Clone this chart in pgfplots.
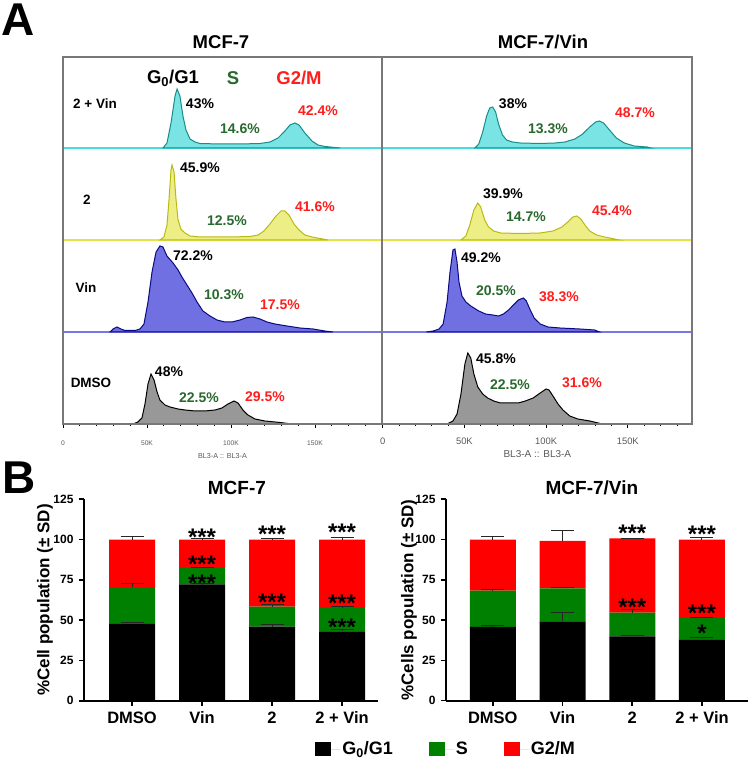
\documentclass[border=0pt]{standalone}
\usepackage{pgfplots}
\pgfplotsset{compat=1.18}
\usepackage{fontspec}
\setmainfont{Liberation Sans}
\newcommand{\fs}[1]{\fontsize{#1}{#1}\selectfont}
\definecolor{cyfill}{RGB}{122,228,228}
\definecolor{cyline}{RGB}{25,140,140}
\definecolor{cybase}{RGB}{70,222,222}
\definecolor{yefill}{RGB}{238,238,135}
\definecolor{yeline}{RGB}{185,185,20}
\definecolor{yebase}{RGB}{228,228,70}
\definecolor{blfill}{RGB}{112,112,226}
\definecolor{blline}{RGB}{10,10,130}
\definecolor{blbase}{RGB}{120,120,228}
\definecolor{grfill}{RGB}{152,152,152}
\definecolor{frgray}{RGB}{120,120,120}
\definecolor{labgray}{RGB}{90,90,90}
\definecolor{dgreen}{RGB}{40,105,45}
\definecolor{pred}{RGB}{255,30,30}
\definecolor{bgreen}{RGB}{0,128,0}
\definecolor{bred}{RGB}{255,0,0}
\pgfplotsset{
  histrow/.style={anchor=south west, scale only axis, width=#1, height=92pt,
    ymin=0, ymax=92, xmin=0, hide axis, clip=false},
  frame/.style={anchor=south west, scale only axis, height=367pt,
    xmin=0, ymin=0, ymax=1, ytick=\empty,
    xtick={0,50,100,150}, xticklabels={0,50K,100K,150K},
    minor xtick={10,20,30,40,60,70,80,90,110,120,130,140,160,170,180},
    xtick pos=bottom, tick align=outside, major tick length=4pt, minor tick length=2.5pt,
    axis line style={draw=frgray, line width=1.1pt}, tick style={black, line width=0.6pt},
    xlabel={BL3-A :: BL3-A}},
  barax/.style={anchor=south west, scale only axis, height=201.4pt,
    ymin=0, ymax=125, enlargelimits=false},
  errplot/.style={draw=none, mark=none, error bars/.cd, y dir=plus, y explicit,
    error bar style={draw=black!85, line width=1pt},
    error mark=-,
    error mark options={rotate=90, draw=black!85, line width=1pt, mark size=11.5pt}},
}
\tikzset{
  pct/.style={font=\fs{14}\bfseries, anchor=center, inner sep=0pt},
  rowlab/.style={font=\fs{13.5}\bfseries, anchor=center, inner sep=0pt},
  star/.style={font=\fs{24}\bfseries, anchor=center, inner sep=0pt, yshift=-5pt},
}
\begin{document}
\begin{tikzpicture}
\fill[white] (0pt,0pt) rectangle (750pt,760pt);
\path[use as bounding box] (0pt,0pt) rectangle (750pt,760pt);

% ---------------- Panel A : left (MCF-7) ----------------
\begin{axis}[histrow=319pt, at={(63pt,612pt)}, xmax=189.9]
\addplot[draw=cybase, line width=1.3pt] coordinates {(0,0) (189.9,0)};
\addplot[draw=cyline, fill=cyfill, line width=1pt] coordinates {(59.5,0) (61.9,5) (64.3,25) (66.7,52) (67.9,59) (69.6,52) (71.4,32) (73.2,18) (75.6,9) (78.6,6) (81.5,4.5) (93.5,4) (105.4,4) (117.3,4.5) (123.2,6) (128.0,10) (132.1,17) (135.1,23) (138.1,25) (140.5,23) (144.0,15) (148.2,7) (151.8,3) (155.9,1.5) (161.9,0.5) (164.9,0)} \closedcycle;
\end{axis}
\begin{axis}[histrow=319pt, at={(63pt,520pt)}, xmax=189.9]
\addplot[draw=yebase, line width=1.3pt] coordinates {(0,0) (189.9,0)};
\addplot[draw=yeline, fill=yefill, line width=1pt] coordinates {(57.7,0) (60.1,3) (61.9,15) (63.1,40) (64.3,70) (64.9,75) (66.1,68) (67.3,40) (68.5,20) (70.2,11) (72.6,7) (75.6,4) (81.5,3) (99.4,3) (111.3,3.5) (116.1,5) (119.6,9) (123.2,16) (126.8,24) (129.8,29) (132.1,29) (134.5,25) (137.5,16) (140.5,10) (144.0,5) (148.2,3) (153.0,1.5) (157.7,0)} \closedcycle;
\end{axis}
\begin{axis}[histrow=319pt, at={(63pt,428pt)}, xmax=189.9]
\addplot[draw=blbase, line width=1.3pt] coordinates {(0,0) (189.9,0)};
\addplot[draw=blline, fill=blfill, line width=1pt] coordinates {(28.0,0) (29.8,3) (32.1,5) (34.5,3) (36.9,1.5) (42.9,1.5) (45.8,3) (48.2,8) (50.6,30) (53.0,60) (55.4,80) (57.7,86) (59.5,85) (61.9,76) (65.5,69) (68.5,62) (70.8,55) (73.8,47) (76.8,39) (79.8,30) (83.3,21) (87.5,16) (91.7,12) (96.4,10) (100.6,10) (105.4,12) (109.5,14.5) (113.1,15) (117.3,13) (121.4,10) (126.2,8) (133.3,6) (141.1,4) (148.8,3) (155.9,1) (160.7,0)} \closedcycle;
\end{axis}
\begin{axis}[histrow=319pt, at={(63pt,336pt)}, xmax=189.9]
\addplot[draw=black, fill=grfill, line width=1pt] coordinates {(41.7,0) (44.6,2) (47.0,6) (48.8,20) (50.6,40) (52.4,50) (54.2,44) (56.0,32) (57.7,24) (60.7,19) (63.7,17) (68.5,15) (72.6,14) (78.6,13) (84.5,13) (90.5,14) (94.6,16) (98.2,20) (101.8,23) (104.2,21) (107.1,14) (110.1,9) (114.3,5) (120.2,3) (129.2,1.5) (136.3,0)} \closedcycle;
\end{axis}
\begin{axis}[frame, at={(63pt,336pt)}, width=319pt, xmax=189.9,
  xticklabel style={font=\fs{6.7}, text=labgray, anchor=center, yshift=-15pt},
  xlabel style={font=\fs{7.2}, text=labgray, at={(axis description cs:0.5,0)}, anchor=center, yshift=-32pt}]
\end{axis}

% ---------------- Panel A : right (MCF-7/Vin) ----------------
\begin{axis}[histrow=309.3pt, at={(382.7pt,612pt)}, xmax=189.3]
\addplot[draw=cybase, line width=1.3pt] coordinates {(0,0) (189.3,0)};
\addplot[draw=cyline, fill=cyfill, line width=1pt] coordinates {(56.4,0) (58.8,4) (61.2,16) (63.6,32) (65.5,40) (67.3,41) (69.1,36) (70.9,24) (73.3,13) (75.8,8) (79.4,6) (84.2,5) (96.4,4.5) (105.5,5) (111.5,6) (117.6,9) (122.4,14) (126.7,21) (130.3,26) (132.7,27) (135.2,25) (138.8,18) (143.0,10) (147.9,5) (153.9,2) (161.8,1) (164.2,0)} \closedcycle;
\end{axis}
\begin{axis}[histrow=309.3pt, at={(382.7pt,520pt)}, xmax=189.3]
\addplot[draw=yebase, line width=1.3pt] coordinates {(0,0) (189.3,0)};
\addplot[draw=yeline, fill=yefill, line width=1pt] coordinates {(47.9,0) (50.9,4) (53.3,15) (55.8,30) (58.2,37) (60.0,33) (62.4,20) (64.8,13) (67.9,9) (72.1,7) (84.2,6.5) (96.4,7) (104.2,9) (109.7,13) (113.3,18) (116.4,23) (118.8,24) (121.2,21) (124.2,14) (126.7,9) (130.9,5) (135.8,3) (141.8,1) (144.8,0)} \closedcycle;
\end{axis}
\begin{axis}[histrow=309.3pt, at={(382.7pt,428pt)}, xmax=189.3]
\addplot[draw=blbase, line width=1.3pt] coordinates {(0,0) (189.3,0)};
\addplot[draw=blline, fill=blfill, line width=1pt] coordinates {(26.7,0) (30.9,1) (34.5,3) (37.0,8) (39.4,30) (41.2,60) (43.0,82) (44.2,83) (45.5,70) (46.7,50) (48.5,36) (50.9,30) (53.9,26) (58.8,21) (63.0,18) (67.3,17) (70.9,16) (73.9,18) (77.0,22) (80.0,27) (83.0,32) (86.1,34) (87.9,31) (90.3,22) (92.7,14) (96.4,8) (101.2,5) (108.5,4) (120.6,3) (129.7,2) (132.7,0)} \closedcycle;
\end{axis}
\begin{axis}[histrow=309.3pt, at={(382.7pt,336pt)}, xmax=189.3]
\addplot[draw=black, fill=grfill, line width=1pt] coordinates {(39.4,0) (43.0,3) (45.5,10) (47.9,30) (50.3,60) (52.1,71) (53.9,66) (55.8,50) (58.2,37) (61.2,30) (64.2,26) (67.9,23) (72.1,21) (78.2,21) (83.0,21) (87.3,23) (92.1,26) (96.4,31) (100.0,35) (101.8,34) (104.2,28) (107.3,20) (110.3,14) (114.5,8) (119.4,5) (126.7,3) (134.5,0)} \closedcycle;
\end{axis}
\begin{axis}[frame, at={(382.7pt,336pt)}, width=309.3pt, xmax=189.3,
  xticklabel style={font=\fs{9.4}, text=labgray, anchor=center, yshift=-13pt},
  xlabel style={font=\fs{10}, text=labgray, at={(axis description cs:0.5,0)}, anchor=center, yshift=-30pt}]
\end{axis}

% ---------------- Panel A texts ----------------
\node[font=\fs{46}\bfseries, anchor=center, inner sep=0pt] at (18pt,740pt) {A};
\node[font=\fs{18.5}\bfseries, anchor=center, inner sep=0pt] at (221pt,718pt) {MCF-7};
\node[font=\fs{18.5}\bfseries, anchor=center, inner sep=0pt] at (543pt,718pt) {MCF-7/Vin};
\node[font=\fs{18.5}\bfseries, anchor=center, inner sep=0pt] at (173pt,682pt) {G\textsubscript{0}/G1};
\node[font=\fs{18.5}\bfseries, text=dgreen, anchor=center, inner sep=0pt] at (233pt,682pt) {S};
\node[font=\fs{18.5}\bfseries, text=pred, anchor=center, inner sep=0pt] at (299pt,682pt) {G2/M};
\node[rowlab] at (95pt,656pt) {2 + Vin};
\node[rowlab] at (87pt,560pt) {2};
\node[rowlab] at (86pt,472pt) {Vin};
\node[rowlab] at (91pt,377pt) {DMSO};
\node[pct] at (200pt,656pt) {43\%};
\node[pct, text=dgreen] at (240pt,631pt) {14.6\%};
\node[pct, text=pred] at (318pt,649pt) {42.4\%};
\node[pct] at (200pt,592pt) {45.9\%};
\node[pct, text=dgreen] at (227pt,539pt) {12.5\%};
\node[pct, text=pred] at (315pt,553pt) {41.6\%};
\node[pct] at (193pt,504pt) {72.2\%};
\node[pct, text=dgreen] at (224pt,465pt) {10.3\%};
\node[pct, text=pred] at (280pt,455pt) {17.5\%};
\node[pct] at (169pt,388pt) {48\%};
\node[pct, text=dgreen] at (199pt,362pt) {22.5\%};
\node[pct, text=pred] at (265pt,363pt) {29.5\%};
\node[pct] at (513pt,656pt) {38\%};
\node[pct, text=dgreen] at (548pt,631pt) {13.3\%};
\node[pct, text=pred] at (635pt,647pt) {48.7\%};
\node[pct] at (503pt,566pt) {39.9\%};
\node[pct, text=dgreen] at (526pt,543pt) {14.7\%};
\node[pct, text=pred] at (612pt,549pt) {45.4\%};
\node[pct] at (481pt,502pt) {49.2\%};
\node[pct, text=dgreen] at (496pt,469pt) {20.5\%};
\node[pct, text=pred] at (559pt,463pt) {38.3\%};
\node[pct] at (496pt,401pt) {45.8\%};
\node[pct, text=dgreen] at (510pt,375pt) {22.5\%};
\node[pct, text=pred] at (582pt,377pt) {31.6\%};
\node[font=\fs{46}\bfseries, anchor=center, inner sep=0pt] at (19pt,282pt) {B};

% ---------------- Panel B : left ----------------
\begin{axis}[barax, at={(84pt,59.3pt)}, width=294pt,
  ybar stacked, bar width=46pt, xmin=-0.686, xmax=3.514,
  /pgf/number format/assume math mode=true,
  axis lines=left, axis line style={-, line width=2pt},
  ytick={0,25,50,75,100,125}, xtick={0,1,2,3}, xticklabels={DMSO,Vin,2,2 + Vin},
  tick align=outside, major tick length=5pt, tick style={black, line width=1.6pt},
  yticklabel style={font=\fs{12}\bfseries, anchor=east, xshift=-2pt},
  xticklabel style={font=\fs{16.5}\bfseries, anchor=center, yshift=-12.3pt},
  ylabel={\%Cell population (± SD)},
  ylabel style={font=\fs{17}\bfseries, at={(axis description cs:-0.133,0.5)}, anchor=center},
  title={MCF-7}, title style={font=\fs{19}\bfseries, at={(axis description cs:0.52,1)}, anchor=center, yshift=5.8pt},
  legend columns=3,
  legend image code/.code={\path (0pt,0pt) -- (25pt,0pt); \fill[#1] (0pt,-7pt) rectangle (16pt,7pt);},
  legend style={draw=none, fill=none, at={(axis description cs:1.232,-0.24)}, anchor=center,
    font=\fs{18}\bfseries, /tikz/every even column/.append style={column sep=34pt}},
]
\addplot[fill=black, draw=none] coordinates {(0,48) (1,72.2) (2,45.9) (3,43)};
\addplot[fill=bgreen, draw=none] coordinates {(0,22.5) (1,10.3) (2,12.5) (3,14.6)};
\addplot[fill=bred, draw=none] coordinates {(0,29.5) (1,17.5) (2,41.6) (3,42.4)};
\legend{G\textsubscript{0}/G1, S, G2/M}
\end{axis}
\begin{axis}[barax, at={(84pt,59.3pt)}, width=294pt, xmin=-0.686, xmax=3.514, hide axis, clip=false]
\addplot[errplot]
  coordinates {(0,48) +- (0,0.8) (0,70.5) +- (0,2.1) (0,100) +- (0,1.9)
               (1,72.2) +- (0,0.4) (1,82.5) +- (0,0.3) (1,100) +- (0,0.4)
               (2,45.9) +- (0,1.3) (2,58.4) +- (0,1.4) (2,100) +- (0,0.4)
               (3,43) +- (0,1.3) (3,57.6) +- (0,1.0) (3,100) +- (0,1.2)};
\node[star] at (axis cs:1,104.8) {***};
\node[star] at (axis cs:1,87.8) {***};
\node[star] at (axis cs:1,75.8) {***};
\node[star] at (axis cs:2,106.2) {***};
\node[star] at (axis cs:2,64.5) {***};
\node[star] at (axis cs:3,107.4) {***};
\node[star] at (axis cs:3,63.4) {***};
\node[star] at (axis cs:3,49.0) {***};
\end{axis}

% ---------------- Panel B : right ----------------
\begin{axis}[barax, at={(446pt,59.3pt)}, width=302pt,
  ybar stacked, bar width=46pt, xmin=-0.671, xmax=3.66,
  /pgf/number format/assume math mode=true,
  axis lines=left, axis line style={-, line width=2pt},
  ytick={0,25,50,75,100,125}, xtick={0,1,2,3}, xticklabels={DMSO,Vin,2,2 + Vin},
  tick align=outside, major tick length=5pt, tick style={black, line width=1.6pt},
  yticklabel style={font=\fs{12}\bfseries, anchor=east, xshift=-2pt},
  xticklabel style={font=\fs{16.5}\bfseries, anchor=center, yshift=-12.3pt},
  ylabel={\%Cells population (± SD)},
  ylabel style={font=\fs{17}\bfseries, at={(axis description cs:-0.1225,0.5)}, anchor=center},
  title={MCF-7/Vin}, title style={font=\fs{19}\bfseries, at={(axis description cs:0.483,1)}, anchor=center, yshift=5.8pt},
]
\addplot[fill=black, draw=none] coordinates {(0,45.8) (1,49.2) (2,39.9) (3,38)};
\addplot[fill=bgreen, draw=none] coordinates {(0,22.5) (1,20.5) (2,14.7) (3,13.3)};
\addplot[fill=bred, draw=none] coordinates {(0,31.6) (1,29.5) (2,46.2) (3,48.7)};
\end{axis}
\begin{axis}[barax, at={(446pt,59.3pt)}, width=302pt, xmin=-0.671, xmax=3.66, hide axis, clip=false]
\addplot[errplot]
  coordinates {(0,45.8) +- (0,1.1) (0,68.3) +- (0,0.6) (0,99.9) +- (0,2.3)
               (1,49.2) +- (0,5.3) (1,69.7) +- (0,0.6) (1,99.2) +- (0,6.2)
               (2,39.9) +- (0,0.8) (2,54.6) +- (0,2.2) (2,100.8) +- (0,0.1)
               (3,38) +- (0,1.5) (3,51.3) +- (0,0.4) (3,100) +- (0,1.2)};
\node[star] at (axis cs:2,106.8) {***};
\node[star] at (axis cs:2,61.4) {***};
\node[star] at (axis cs:3,106.2) {***};
\node[star] at (axis cs:3,57.2) {***};
\node[star] at (axis cs:3,44.8) {*};
\end{axis}
\end{tikzpicture}
\end{document}
